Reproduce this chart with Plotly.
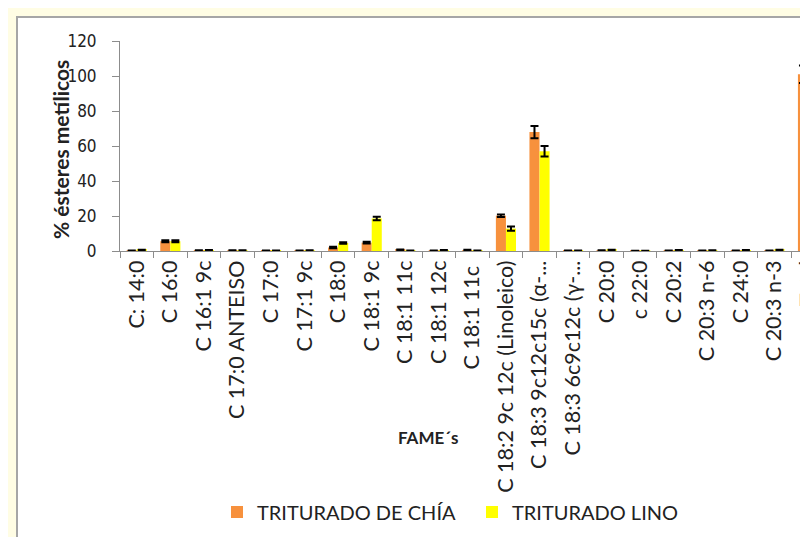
import plotly.graph_objects as go

categories = ["C: 14:0", "C 16:0", "C 16:1 9c", "C 17:0 ANTEISO", "C 17:0", "C 17:1 9c",
              "C 18:0", "C 18:1 9c", "C 18:1 11c", "C 18:1 12c", "C 18:1 11c ",
              "C 18:2 9c 12c (Linoleico)", "C 18:3 9c12c15c (α-...", "C 18:3 6c9c12c (γ-...",
              "C 20:0", "c 22:0", "C 20:2", "C 20:3 n-6", "C 24:0", "C 20:3 n-3", "Total"]

chia = [0.2, 5.6, 0.4, 0.4, 0.2, 0.2, 2.0, 4.8, 0.6, 0.3, 0.5, 20.2, 68.0, 0.3,
        0.4, 0.1, 0.3, 0.2, 0.3, 0.3, 101.0]
chia_err = [0.05, 0.6, 0.05, 0.05, 0.05, 0.05, 0.4, 0.5, 0.3, 0.05, 0.2, 0.7, 3.5, 0.05,
            0.05, 0.05, 0.05, 0.05, 0.05, 0.05, 5.0]

lino = [0.6, 5.6, 0.5, 0.4, 0.3, 0.4, 4.6, 18.6, 0.2, 0.5, 0.2, 12.8, 57.0, 0.3,
        0.6, 0.1, 0.5, 0.4, 0.5, 0.6, 100.0]
lino_err = [0.05, 0.6, 0.05, 0.05, 0.05, 0.05, 0.4, 1.0, 0.05, 0.05, 0.05, 1.2, 3.0, 0.05,
            0.05, 0.05, 0.05, 0.05, 0.05, 0.05, 5.0]

y_ticks = [0, 20, 40, 60, 80, 100, 120]

# page body has an 8px margin: figure coordinates = reference pixels - 8
OFF = 8
W, H = 808 - OFF, 537 - OFF
ML, MR, MT = 120 - OFF, 0, 41 - OFF
MB = H - (251 - OFF)
PW, PH = W - ML - MR, H - MT - MB

def px_x(px):
    return (px - OFF - ML) / PW

def px_y(py):
    return (H - MB - (py - OFF)) / PH

FONT = "Lato, 'Open Sans', sans-serif"

fig = go.Figure()
fig.add_trace(go.Bar(
    x=categories, y=chia, name="TRITURADO DE CHÍA",
    marker=dict(color="#F7913D", line=dict(width=0)),
    error_y=dict(type="data", array=chia_err, color="black", thickness=2, width=4),
))
fig.add_trace(go.Bar(
    x=categories, y=lino, name="TRITURADO LINO",
    marker=dict(color="#FFFF00", line=dict(width=0)),
    error_y=dict(type="data", array=lino_err, color="black", thickness=2, width=4),
))

fig.update_layout(
    width=W, height=H,
    margin=dict(l=ML, r=MR, t=MT, b=MB, autoexpand=False),
    paper_bgcolor="#FFFDE4",
    plot_bgcolor="white",
    barmode="group", bargap=0.4, bargroupgap=0,
    font=dict(family=FONT, color="#222222", size=16),
    showlegend=True,
    legend=dict(orientation="h", x=px_x(217), y=px_y(512), xanchor="left", yanchor="middle",
                font=dict(family=FONT, size=20, color="#222222"),
                entrywidth=210, entrywidthmode="pixels",
                bgcolor="rgba(0,0,0,0)", traceorder="normal"),
    xaxis=dict(
        type="category", range=[-0.5, 20.0],
        showline=True, linecolor="#8C8C8C", linewidth=1,
        ticks="outside", tickson="boundaries", ticklen=6, tickcolor="#8C8C8C",
        tickangle=-90, tickfont=dict(family=FONT, size=21.5, color="#222222"),
        showgrid=False, zeroline=False,
    ),
    yaxis=dict(
        range=[0, 120], tickvals=y_ticks,
        showline=True, linecolor="#8C8C8C", linewidth=1,
        ticks="outside", ticklen=7, tickcolor="#8C8C8C", ticklabelstandoff=12,
        tickfont=dict(family="'Liberation Sans Narrow', 'DejaVu Sans Condensed', sans-serif",
                      size=17, color="#222222"),
        showgrid=False, zeroline=False,
    ),
    shapes=[dict(type="rect", xref="paper", yref="paper",
                 x0=px_x(17), x1=px_x(900), y0=px_y(700), y1=px_y(17),
                 fillcolor="white", line=dict(color="#A6A6A6", width=2), layer="below")],
    annotations=[
        dict(text="<b>% ésteres metílicos</b>", xref="paper", yref="paper",
             x=px_x(60), y=px_y(150), xanchor="center", yanchor="middle",
             textangle=-90, showarrow=False,
             font=dict(family=FONT, size=21, color="#222222")),
        dict(text="<b>FAME´s</b>", xref="paper", yref="paper",
             x=px_x(428), y=px_y(437), xanchor="center", yanchor="middle", showarrow=False,
             font=dict(family=FONT, size=17, color="#222222")),
    ],
)

fig.write_html("out.html")
